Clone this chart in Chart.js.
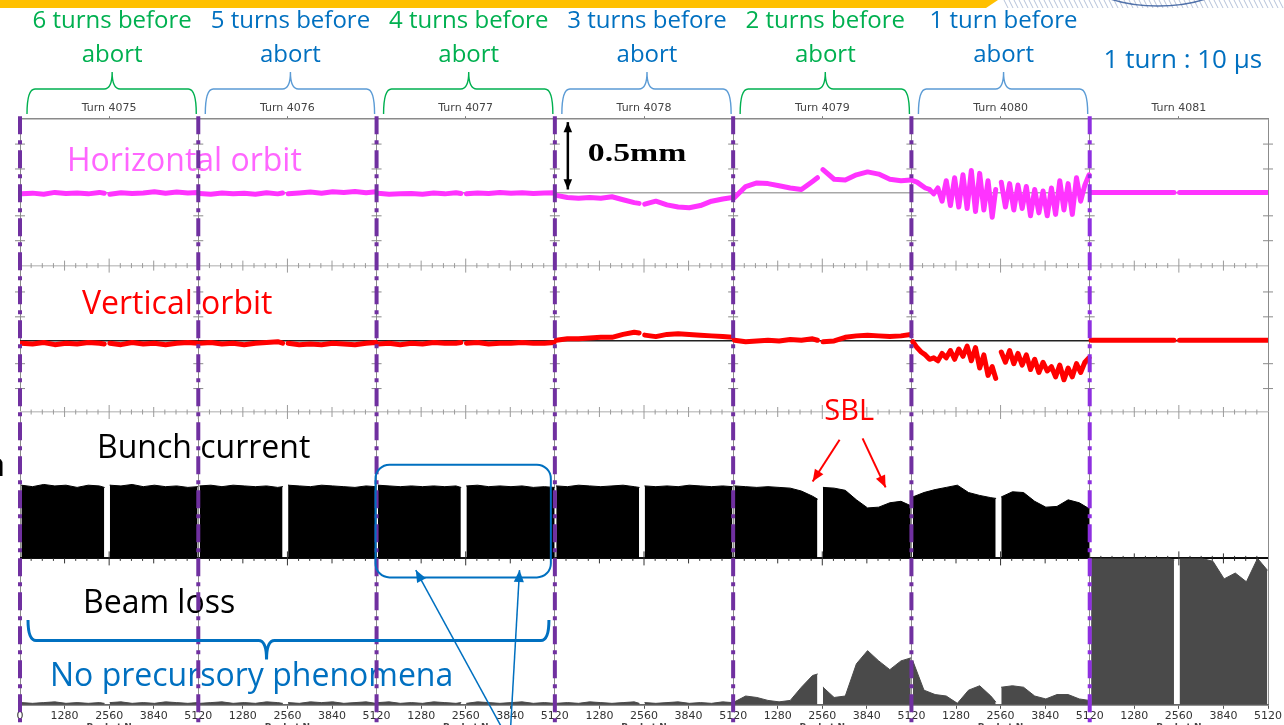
<!DOCTYPE html>
<html>
<head>
<meta charset="utf-8">
<script src="https://cdn.jsdelivr.net/npm/chart.js@4.4.1/dist/chart.umd.min.js"></script>
<style>
  html, body { margin: 0; padding: 0; background: #fff; overflow: hidden; }
  #wrap { width: 1284px; height: 725px; }
</style>
</head>
<body>
<div id="wrap"><canvas id="c" width="1284" height="725"></canvas></div>
<script>
// --- Data: 7 consecutive turns, 5120 buckets each ---
const TURNS = ["Turn 4075", "Turn 4076", "Turn 4077", "Turn 4078", "Turn 4079", "Turn 4080", "Turn 4081"];
const BEFORE_ABORT = [
  ["6 turns before", "abort"], ["5 turns before", "abort"], ["4 turns before", "abort"],
  ["3 turns before", "abort"], ["2 turns before", "abort"], ["1 turn before", "abort"]
];
const BUCKET_TICK_LABELS = ["0", "1280", "2560", "3840", "5120"];
const TURN_LEN = 5120;
const GAP_AT = 2500; // empty buckets (bunch train gap)

// bucket positions sampled inside each turn
const BUCKETS = [40, 360, 680, 1000, 1320, 1640, 1960, 2280, 2420, 2580, 2900, 3220, 3540, 3860, 4180, 4500, 4820, 5100];
const BUCKETS_FINE = [40, 160, 280, 400, 520, 640, 760, 880, 1000, 1120, 1240, 1360, 1480, 1600, 1720, 1840, 1960, 2080,
  2200, 2320, 2420, 2580, 2700, 2820, 2940, 3060, 3180, 3300, 3420, 3540, 3660, 3780, 3900, 4020, 4140, 4260, 4380,
  4500, 4620, 4740, 4860, 4980, 5100];
const ORBIT_GRID = [BUCKETS, BUCKETS, BUCKETS, BUCKETS, BUCKETS, BUCKETS_FINE, BUCKETS];
const PLAIN_GRID = [BUCKETS, BUCKETS, BUCKETS, BUCKETS, BUCKETS, BUCKETS, BUCKETS];

// horizontal orbit (mm)
const H_ORBIT = [
  [-0.01, -0.005, -0.012, 0.0, -0.008, -0.004, -0.01, 0.0, -0.006, -0.012, -0.002, -0.008, -0.004, 0.004, -0.006, 0.002, -0.004, 0.0],
  [-0.008, -0.012, -0.004, -0.01, -0.006, -0.012, -0.002, -0.01, -0.004, -0.01, -0.004, 0.002, -0.006, 0.004, 0.0, 0.006, -0.002, 0.004],
  [-0.006, -0.012, -0.01, -0.008, -0.012, -0.004, -0.01, -0.002, -0.008, -0.01, -0.004, -0.008, 0.0, -0.006, -0.002, -0.008, -0.004, -0.002],
  [-0.02, -0.035, -0.04, -0.035, -0.04, -0.03, -0.05, -0.07, -0.075, -0.08, -0.06, -0.085, -0.1, -0.105, -0.09, -0.06, -0.045, -0.035],
  [-0.035, 0.04, 0.065, 0.06, 0.045, 0.03, 0.02, 0.075, 0.1, 0.155, 0.09, 0.085, 0.12, 0.14, 0.125, 0.09, 0.08, 0.085],
  [0.08, 0.07, 0.05, 0.03, 0.02, -0.01, 0.03, -0.06, 0.08, -0.09, 0.1, -0.1, 0.12, -0.11, 0.15, -0.13, 0.13, -0.12,
   0.08, -0.17, 0.02, 0.07, -0.1, 0.06, -0.12, 0.05, -0.11, 0.04, -0.16, 0.02, -0.14, 0.01, -0.16, 0.03, -0.15, 0.08,
   -0.12, 0.06, -0.15, 0.1, -0.06, 0.05, 0.12],
  [0, 0, 0, 0, 0, 0, 0, 0, 0, 0, 0, 0, 0, 0, 0, 0, 0, 0]
];

// vertical orbit (mm)
const V_ORBIT = [
  [-0.02, -0.025, -0.015, -0.03, -0.02, -0.025, -0.015, -0.02, -0.025, -0.02, -0.03, -0.015, -0.025, -0.02, -0.03, -0.02, -0.015, -0.02],
  [-0.02, -0.015, -0.025, -0.02, -0.03, -0.02, -0.015, -0.01, -0.02, -0.02, -0.03, -0.025, -0.03, -0.02, -0.025, -0.03, -0.02, -0.015],
  [-0.025, -0.02, -0.03, -0.02, -0.025, -0.015, -0.02, -0.02, -0.015, -0.02, -0.015, -0.025, -0.02, -0.02, -0.015, -0.02, -0.02, -0.015],
  [0.0, 0.01, 0.01, 0.015, 0.02, 0.02, 0.04, 0.055, 0.05, 0.035, 0.025, 0.04, 0.045, 0.04, 0.035, 0.03, 0.025, 0.02],
  [0.0, -0.01, -0.005, 0.0, -0.005, 0.005, 0.0, 0.01, 0.0, -0.01, -0.005, 0.02, 0.03, 0.035, 0.03, 0.025, 0.03, 0.04],
  [-0.01, -0.05, -0.08, -0.1, -0.13, -0.12, -0.14, -0.09, -0.12, -0.07, -0.13, -0.06, -0.11, -0.04, -0.14, -0.05, -0.19,
   -0.1, -0.24, -0.18, -0.26, -0.08, -0.15, -0.07, -0.16, -0.09, -0.17, -0.1, -0.2, -0.13, -0.22, -0.15, -0.21, -0.18,
   -0.25, -0.17, -0.27, -0.19, -0.25, -0.16, -0.22, -0.15, -0.12],
  [0, 0, 0, 0, 0, 0, 0, 0, 0, 0, 0, 0, 0, 0, 0, 0, 0, 0]
];

// bunch current (arb. units)
const BUNCH_CURRENT = [
  [1.0, 0.98, 1.01, 0.99, 1.0, 0.97, 1.0, 0.99, 0.97, 1.0, 0.99, 1.01, 0.98, 1.0, 0.98, 0.99, 0.97, 0.98],
  [0.99, 1.0, 0.98, 1.0, 0.99, 0.98, 0.99, 0.97, 0.98, 1.0, 0.99, 0.98, 1.0, 0.99, 0.98, 0.97, 0.99, 0.98],
  [1.0, 0.99, 0.98, 0.99, 0.98, 0.99, 0.98, 0.99, 0.97, 0.99, 1.0, 0.98, 0.99, 0.98, 0.99, 0.97, 0.98, 0.97],
  [0.99, 0.98, 1.0, 0.99, 0.98, 0.99, 1.0, 0.98, 0.97, 0.99, 0.98, 0.99, 0.98, 1.0, 0.99, 0.98, 0.99, 0.98],
  [0.99, 0.98, 0.97, 0.98, 0.97, 0.96, 0.92, 0.85, 0.81, 0.97, 0.96, 0.93, 0.8, 0.69, 0.7, 0.76, 0.78, 0.72],
  [0.84, 0.9, 0.94, 0.97, 1.0, 0.9, 0.86, 0.83, 0.82, 0.84, 0.91, 0.9, 0.78, 0.7, 0.71, 0.8, 0.76, 0.68],
  [0, 0, 0, 0, 0, 0, 0, 0, 0, 0, 0, 0, 0, 0, 0, 0, 0, 0]
];

// beam loss (arb. units)
const BEAM_LOSS = [
  [0.015, 0.01, 0.015, 0.02, 0.01, 0.015, 0.01, 0.015, 0.01, 0.015, 0.02, 0.01, 0.015, 0.01, 0.02, 0.015, 0.01, 0.015],
  [0.01, 0.015, 0.02, 0.01, 0.015, 0.01, 0.02, 0.015, 0.01, 0.015, 0.01, 0.02, 0.015, 0.02, 0.01, 0.015, 0.02, 0.01],
  [0.015, 0.02, 0.01, 0.015, 0.01, 0.02, 0.015, 0.01, 0.015, 0.01, 0.02, 0.015, 0.01, 0.015, 0.02, 0.01, 0.015, 0.01],
  [0.01, 0.015, 0.01, 0.02, 0.015, 0.01, 0.015, 0.02, 0.01, 0.015, 0.01, 0.015, 0.02, 0.01, 0.015, 0.01, 0.02, 0.015],
  [0.02, 0.06, 0.05, 0.03, 0.02, 0.03, 0.12, 0.2, 0.21, 0.12, 0.05, 0.06, 0.28, 0.37, 0.3, 0.24, 0.3, 0.32],
  [0.3, 0.1, 0.07, 0.06, 0.01, 0.1, 0.13, 0.06, 0.02, 0.12, 0.13, 0.12, 0.06, 0.04, 0.07, 0.07, 0.04, 0.03],
  [1.0, 1.0, 1.0, 1.0, 1.0, 1.0, 1.0, 1.0, 0.99, 1.0, 1.0, 1.0, 0.98, 0.86, 0.9, 0.84, 1.0, 0.92]
];

// --- colours ---
const GREEN = "#00b050", BLUE = "#0070c0", LIGHT_BLUE = "#5b9bd5", PURPLE = "#7030a0";
const SANS = "'Open Sans', 'Noto Sans', sans-serif";

function toPoints(turnValues, grids) {
  const pts = [];
  turnValues.forEach((vals, t) => {
    const grid = grids[t];
    vals.forEach((v, i) => {
      if (i > 0 && grid[i - 1] < GAP_AT && grid[i] > GAP_AT) pts.push({ x: t * TURN_LEN + GAP_AT, y: null });
      pts.push({ x: t * TURN_LEN + grid[i], y: v });
    });
    pts.push({ x: (t + 1) * TURN_LEN, y: null }); // each turn is its own plot
  });
  return pts;
}

// one horizontal strip per signal, stacked on the left
function rowAxis(weight, min, max, lines) {
  return {
    type: "linear", position: "left", stack: "rows", stackWeight: 1, weight, min, max,
    afterBuildTicks: (s) => { s.ticks = lines.map((l) => ({ value: l.v })); },
    ticks: { display: false },
    border: { display: false },
    grid: { drawTicks: false, color: (c) => lines[c.index].c, lineWidth: (c) => lines[c.index].w }
  };
}

function text(ctx, str, x, y, font, color, align) {
  ctx.font = font; ctx.fillStyle = color;
  ctx.textAlign = align || "center"; ctx.textBaseline = "middle";
  ctx.fillText(str, x, y);
}

function brace(ctx, x0, x1, xt, yEnd, yBar, yTip, color, w) {
  const r = 8;
  ctx.beginPath();
  ctx.moveTo(x0, yEnd);
  ctx.quadraticCurveTo(x0, yBar, x0 + r, yBar);
  ctx.lineTo(xt - r, yBar);
  ctx.quadraticCurveTo(xt, yBar, xt, yTip);
  ctx.quadraticCurveTo(xt, yBar, xt + r, yBar);
  ctx.lineTo(x1 - r, yBar);
  ctx.quadraticCurveTo(x1, yBar, x1, yEnd);
  ctx.strokeStyle = color; ctx.lineWidth = w; ctx.stroke();
}

function arrow(ctx, x0, y0, x1, y1, color, w, head, both) {
  ctx.strokeStyle = color; ctx.fillStyle = color; ctx.lineWidth = w;
  ctx.beginPath(); ctx.moveTo(x0, y0); ctx.lineTo(x1, y1); ctx.stroke();
  const tip = (xa, ya, xb, yb) => {
    const a = Math.atan2(yb - ya, xb - xa);
    ctx.beginPath();
    ctx.moveTo(xb, yb);
    ctx.lineTo(xb - head * Math.cos(a - 0.4), yb - head * Math.sin(a - 0.4));
    ctx.lineTo(xb - head * Math.cos(a + 0.4), yb - head * Math.sin(a + 0.4));
    ctx.closePath(); ctx.fill();
  };
  tip(x0, y0, x1, y1);
  if (both) tip(x1, y1, x0, y0);
}

const slidePlugin = {
  id: "slide",
  beforeDraw(chart) {
    const ctx = chart.ctx;
    ctx.save();
    ctx.fillStyle = "#fff"; ctx.fillRect(0, 0, chart.width, chart.height);
    // title bar and the edge of the logo
    ctx.fillStyle = "#ffc000";
    ctx.beginPath(); ctx.moveTo(0, 0); ctx.lineTo(998, 0); ctx.lineTo(986, 8); ctx.lineTo(0, 8); ctx.closePath(); ctx.fill();
    ctx.strokeStyle = "rgba(90,120,170,0.45)"; ctx.lineWidth = 1;
    for (let x = 1004; x < 1284; x += 5) { ctx.beginPath(); ctx.moveTo(x, 0); ctx.lineTo(x + 4, 8); ctx.stroke(); }
    ctx.strokeStyle = "rgba(40,80,150,0.8)"; ctx.lineWidth = 1.5;
    ctx.beginPath(); ctx.ellipse(1158, -28, 78, 34, 0, 0, Math.PI); ctx.stroke();
    ctx.restore();
  },
  beforeDatasetsDraw(chart) {
    const { ctx, scales: { x, yH, yV, yBunch } } = chart;
    ctx.save();
    // small tick marks of the original sub-plots
    const rows = [[yH.getPixelForValue(-0.5), "#9a9a9a"], [yV.getPixelForValue(-0.49), "#9a9a9a"], [yBunch.getPixelForValue(0), "#333"]];
    rows.forEach(([y, col]) => {
      ctx.strokeStyle = col; ctx.lineWidth = 1;
      for (let v = 320; v < TURN_LEN * TURNS.length; v += 320) {
        const px = x.getPixelForValue(v);
        const len = v % 2560 === 0 ? 7 : v % 1280 === 0 ? 5 : 2.5;
        ctx.beginPath(); ctx.moveTo(px, y - len); ctx.lineTo(px, y + len); ctx.stroke();
      }
    });
    ctx.strokeStyle = "#8a8a8a";
    for (let t = 0; t <= TURNS.length; t++) {
      const px = x.getPixelForValue(t * TURN_LEN);
      [[yH, 0.33], [yH, 0.16], [yH, -0.16], [yH, -0.33], [yV, 0.33], [yV, 0.16], [yV, -0.16], [yV, -0.33]].forEach(([s, v]) => {
        const py = s.getPixelForValue(v);
        ctx.beginPath(); ctx.moveTo(px - 5, py); ctx.lineTo(px + 5, py); ctx.stroke();
      });
    }
    ctx.restore();
  },
  afterDraw(chart) {
    const { ctx, scales: { x, yH, yV, yBunch, yLoss } } = chart;
    const bx = (t, b) => x.getPixelForValue(t * TURN_LEN + b);
    ctx.save();

    // "n turns before abort" headings with braces
    BEFORE_ABORT.forEach((lines, i) => {
      const l = bx(i, 0), r = bx(i + 1, 0), c = (l + r) / 2 + 3;
      const col = i % 2 ? BLUE : GREEN;
      text(ctx, lines[0], c, 21, `24px ${SANS}`, col);
      text(ctx, lines[1], c, 55, `24px ${SANS}`, col);
      brace(ctx, l + 7, r - 2, c, 114, 89, 72, i % 2 ? LIGHT_BLUE : GREEN, 1.4);
    });
    text(ctx, "1 turn : 10 \u03bcs", bx(6, 2560) + 4, 61, `26px ${SANS}`, BLUE);

    // "Bucket N" under each sub-plot (cut by the slide edge)
    TURNS.forEach((_, i) => text(ctx, "Bucket N", bx(i, 2560), chart.height + 3, `bold 9px 'DejaVu Sans', sans-serif`, "#444"));

    // row labels
    text(ctx, "Horizontal orbit", bx(0, 1350), yH.getPixelForValue(0.21), `32px ${SANS}`, "#ff66ff", "left");
    text(ctx, "Vertical orbit", bx(0, 1780), yV.getPixelForValue(0.245), `32px ${SANS}`, "#ff0000", "left");
    text(ctx, "Bunch current", bx(0, 2211), yBunch.getPixelForValue(1.49), `32px ${SANS}`, "#000", "left");
    text(ctx, "Beam loss", bx(0, 1809), yLoss.getPixelForValue(0.69), `32px ${SANS}`, "#000", "left");
    text(ctx, "No precursory phenomena", bx(0, 861), yLoss.getPixelForValue(0.19), `32px ${SANS}`, BLUE, "left");
    text(ctx, "n", 5, yBunch.getPixelForValue(1.25), `32px ${SANS}`, "#000", "right");

    // turn boundaries (dash-dot)
    ctx.setLineDash([18, 6, 4, 6]); ctx.lineWidth = 4;
    for (let t = 0; t < TURNS.length; t++) {
      ctx.strokeStyle = t === TURNS.length - 1 ? "#8e2fe0" : PURPLE;
      const px = bx(t, 0);
      ctx.beginPath(); ctx.moveTo(px, chart.chartArea.top - 3); ctx.lineTo(px, chart.height); ctx.stroke();
    }
    ctx.setLineDash([]);

    // 0.5 mm scale arrow
    arrow(ctx, bx(3, 373), yH.getPixelForValue(0.02), bx(3, 373), yH.getPixelForValue(0.48), "#000", 2.5, 11, true);
    ctx.save();
    ctx.translate(bx(3, 948), yH.getPixelForValue(0.26));
    ctx.scale(1.3, 1);
    text(ctx, "0.5mm", 0, 0, "bold 26px 'Liberation Serif', serif", "#000", "left");
    ctx.restore();

    // SBL
    text(ctx, "SBL", bx(4, 3331), yBunch.getPixelForValue(2.0), `29px ${SANS}`, "#ff0000");
    arrow(ctx, bx(4, 3057), yBunch.getPixelForValue(1.62), bx(4, 2283), yBunch.getPixelForValue(1.05), "#ff0000", 2, 13);
    arrow(ctx, bx(4, 3717), yBunch.getPixelForValue(1.64), bx(4, 4378), yBunch.getPixelForValue(0.97), "#ff0000", 2, 13);

    // no precursory phenomena: brace + highlighted turn 4077
    brace(ctx, bx(0, 230), bx(2, 4950), bx(0, 7080), yLoss.getPixelForValue(0.58), yLoss.getPixelForValue(0.44), yLoss.getPixelForValue(0.31), BLUE, 3);
    const rl = bx(2, -30), rr = bx(2, 5005), rt = yBunch.getPixelForValue(1.28), rb = yLoss.getPixelForValue(0.87);
    ctx.beginPath(); ctx.roundRect(rl, rt, rr - rl, rb - rt, 14);
    ctx.strokeStyle = BLUE; ctx.lineWidth = 2; ctx.stroke();
    arrow(ctx, bx(2, 3618), chart.height + 4, bx(2, 1126), yLoss.getPixelForValue(0.92), BLUE, 1.5, 13);
    arrow(ctx, bx(2, 3847), chart.height + 4, bx(2, 4105), yLoss.getPixelForValue(0.92), BLUE, 1.5, 13);

    ctx.restore();
  }
};

const lineSet = (label, data, axis, color, width, fillColor) => ({
  label, data, yAxisID: axis, xAxisID: "x",
  borderColor: color, borderWidth: width, borderJoinStyle: "round", borderCapStyle: "round",
  pointRadius: 0, tension: 0, spanGaps: false,
  backgroundColor: fillColor || color, fill: fillColor ? "origin" : false
});

new Chart(document.getElementById("c"), {
  type: "line",
  data: {
    datasets: [
      lineSet("Beam loss", toPoints(BEAM_LOSS, PLAIN_GRID), "yLoss", "#4a4a4a", 1, "#4a4a4a"),
      lineSet("Bunch current", toPoints(BUNCH_CURRENT, PLAIN_GRID), "yBunch", "#000", 1, "#000"),
      lineSet("Vertical orbit", toPoints(V_ORBIT, ORBIT_GRID), "yV", "#ff0000", 5),
      lineSet("Horizontal orbit", toPoints(H_ORBIT, ORBIT_GRID), "yH", "#ff33ff", 5)
    ]
  },
  options: {
    responsive: false, animation: false, devicePixelRatio: 1,
    layout: { padding: { left: 20, right: 16, top: 101, bottom: 1 } },
    plugins: { legend: { display: false }, tooltip: { enabled: false } },
    scales: {
      x: {
        type: "linear", position: "bottom", min: 0, max: TURN_LEN * TURNS.length,
        ticks: {
          stepSize: 1280, autoSkip: false, maxRotation: 0, padding: 1,
          color: "#333", font: { family: "'DejaVu Sans', sans-serif", size: 11 },
          callback: (v) => (v % TURN_LEN === 0 && v > 0 ? BUCKET_TICK_LABELS[4] : BUCKET_TICK_LABELS[(v % TURN_LEN) / 1280])
        },
        grid: {
          color: (c) => (c.tick && c.tick.value % TURN_LEN === 0 ? "#8c8c8c" : "rgba(0,0,0,0)"),
          tickColor: "#555", tickLength: 4, lineWidth: 1
        },
        border: { color: "#666", width: 1.5 }
      },
      xTop: {
        type: "linear", position: "top", min: 0, max: TURN_LEN * TURNS.length,
        afterBuildTicks: (s) => { s.ticks = TURNS.map((_, i) => ({ value: i * TURN_LEN + 2560 })); },
        ticks: { padding: 1, color: "#444", font: { family: "'DejaVu Sans', sans-serif", size: 11 }, callback: (v, i) => TURNS[i] },
        grid: { drawOnChartArea: false, tickLength: 3, tickColor: "#777" },
        border: { color: "#8a8a8a", width: 1.5 }
      },
      yH: rowAxis(4, -0.5, 0.5, [{ v: 0, c: "#a8a8a8", w: 1.5 }, { v: -0.5, c: "#c8c8c8", w: 1.5 }]),
      yV: rowAxis(3, -0.49, 0.51, [{ v: 0, c: "#222", w: 1.5 }, { v: -0.49, c: "#c8c8c8", w: 1.5 }]),
      yBunch: rowAxis(2, 0, 2, [{ v: 0, c: "#111", w: 2 }]),
      yLoss: rowAxis(1, 0, 1, [{ v: 0, c: "#777", w: 1.5 }])
    }
  },
  plugins: [slidePlugin]
});
</script>
</body>
</html>
